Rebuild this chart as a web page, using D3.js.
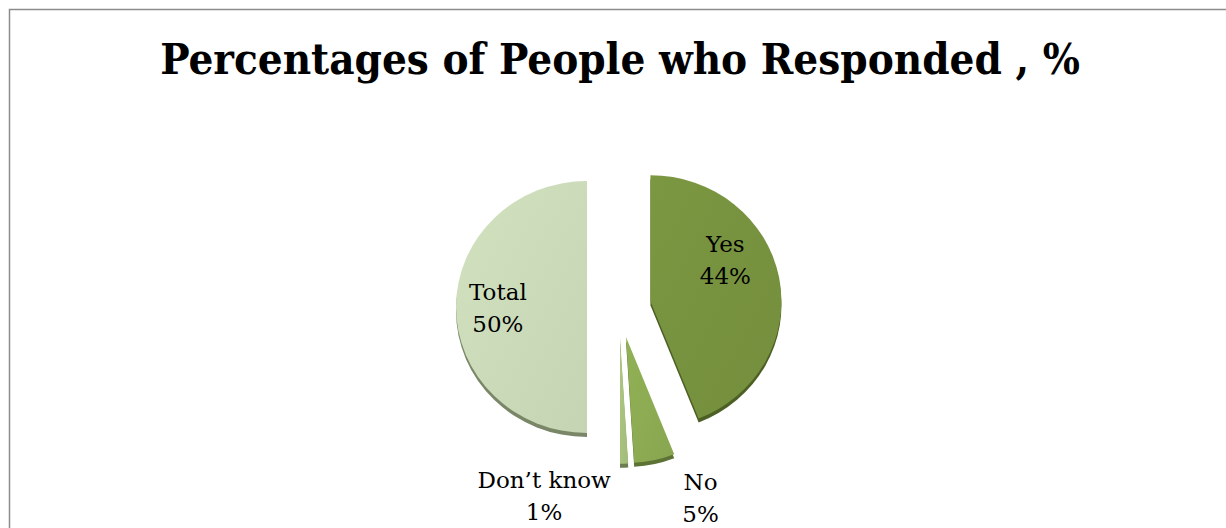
<!DOCTYPE html>
<html>
<head>
<meta charset="utf-8">
<script src="https://cdn.jsdelivr.net/npm/d3@7"></script>
<style>
  html, body { margin: 0; padding: 0; background: #fff; }
  svg { display: block; }
</style>
</head>
<body>
<svg id="chart" width="1226" height="528"></svg>
<script>
// data, clockwise from 12 o'clock
const categories = ["Yes", "No", "Don\u2019t know", "Total"];
const values = [44, 5, 1, 50];
const colors = ["#77923f", "#8cab52", "#a7c07d", "#cbdab8"];
const depthColors = ["#4c5f24", "#5d7235", "#6c7d52", "#7a8668"];

// label placement (layout, not data)
const labelLayout = {
  "Yes":        { r: 0.66, dx: -10, dy: -26 },
  "No":         { outer: true, dx: 46,  dy: 38 },
  "Don\u2019t know": { outer: true, dx: -80, dy: 32 },
  "Total":      { r: 0.68, dx: 0,   dy: 1 }
};

const W = 1226, H = 528;
const cx = 619, cy = 307;
const R = 131;
const squash = 0.962;   // slight 3D tilt
const explode = 32;
const depth = 4;

const svg = d3.select("#chart");

// chart frame
svg.append("rect")
  .attr("x", 9.5).attr("y", 9.5)
  .attr("width", W + 20).attr("height", H + 20)
  .attr("fill", "#fff")
  .attr("stroke", "#8c8c8c")
  .attr("stroke-width", 1.5);

const title = svg.append("text")
  .attr("x", 620).attr("y", 74)
  .attr("text-anchor", "middle")
  .style("font-family", "'DejaVu Serif Condensed', 'DejaVu Serif', serif")
  .style("font-stretch", "condensed")
  .style("font-weight", "bold")
  .style("font-size", "42px")
  .attr("fill", "#000")
  .text("Percentages of People who Responded , %");
// fit title to the width it has in the picture
const tw = title.node().getComputedTextLength();
title.style("font-size", (42 * 920 / tw).toFixed(1) + "px");

const table = categories.map((c, i) => ({ name: c, value: values[i], color: colors[i], depth: depthColors[i] }));

const pie = d3.pie().sort(null).value(d => d.value);
const arcs = pie(table);
const arc = d3.arc().innerRadius(0).outerRadius(R);

// gradients for a little shading
const defs = svg.append("defs");
arcs.forEach((a, i) => {
  const g = defs.append("linearGradient")
    .attr("id", "grad" + i)
    .attr("x1", "0%").attr("y1", "0%").attr("x2", "100%").attr("y2", "100%");
  const c = d3.color(a.data.color);
  g.append("stop").attr("offset", "0%").attr("stop-color", c.brighter(0.1));
  g.append("stop").attr("offset", "100%").attr("stop-color", c.darker(0.08));
});

function offsetOf(a) {
  const mid = (a.startAngle + a.endAngle) / 2;
  return [Math.sin(mid) * explode, -Math.cos(mid) * explode * squash];
}

const root = svg.append("g").attr("transform", `translate(${cx},${cy})`);

const slices = root.selectAll("g.slice")
  .data(arcs)
  .enter().append("g")
  .attr("class", "slice")
  .attr("transform", d => {
    const [ox, oy] = offsetOf(d);
    return `translate(${ox},${oy})`;
  });

// depth (3D edge) drawn first, shifted down
slices.append("path")
  .attr("d", arc)
  .attr("transform", `translate(0,${depth}) scale(1,${squash})`)
  .attr("fill", d => d.data.depth);

slices.append("path")
  .attr("d", arc)
  .attr("transform", `scale(1,${squash})`)
  .attr("fill", (d, i) => `url(#grad${i})`);

// labels
arcs.forEach(a => {
  const lay = labelLayout[a.data.name];
  const [ox, oy] = offsetOf(a);
  const mid = (a.startAngle + a.endAngle) / 2;
  const rr = lay.outer ? R : R * lay.r;
  const x = cx + ox + Math.sin(mid) * rr + lay.dx;
  const y = cy + oy - Math.cos(mid) * rr * squash + lay.dy;
  const t = svg.append("text")
    .attr("text-anchor", "middle")
    .style("font-family", "'DejaVu Serif', serif")
    .style("font-size", "23px")
    .attr("fill", "#000");
  t.append("tspan").attr("x", x).attr("y", y - 8).text(a.data.name);
  t.append("tspan").attr("x", x).attr("y", y + 24).text(a.data.value + "%");
});
</script>
</body>
</html>
